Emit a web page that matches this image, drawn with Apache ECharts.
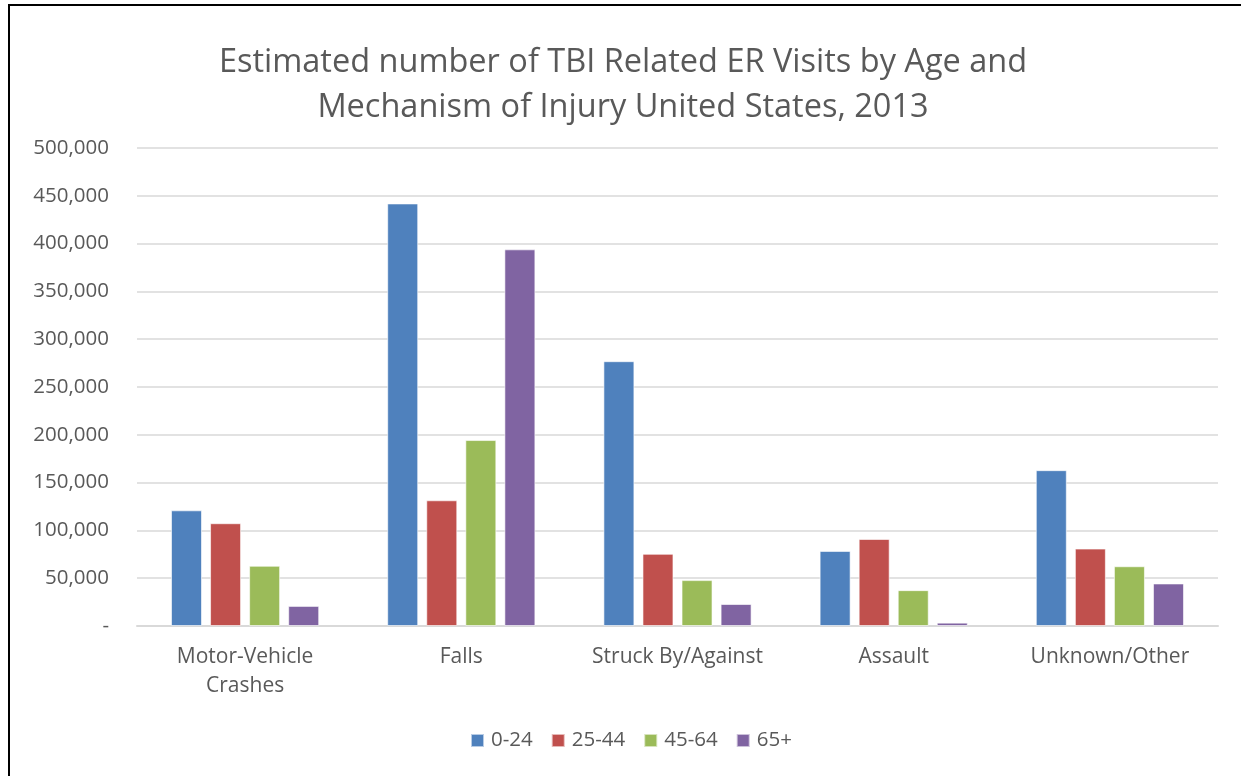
<!DOCTYPE html>
<html>
<head>
<meta charset="utf-8">
<script src="https://cdn.jsdelivr.net/npm/echarts@6/dist/echarts.min.js"></script>
<style>
  html, body { margin: 0; padding: 0; background: #fff; overflow: hidden; }
  #main { width: 1241px; height: 776px; position: absolute; left: 0; top: 0; }
  .frame { position: absolute; left: 8px; top: 4px; width: 1400px; height: 900px;
           border-left: 2px solid #000; border-top: 2px solid #000; pointer-events: none; }
</style>
</head>
<body>
<div id="main"></div>
<div class="frame"></div>
<script>
  // chart data
  var categories = ['Motor-Vehicle\nCrashes', 'Falls', 'Struck By/Against', 'Assault', 'Unknown/Other'];
  var ages = ['0-24', '25-44', '45-64', '65+'];
  var age0to24 = [121000, 442000, 277000, 78500, 163000];
  var age25to44 = [107500, 131500, 75500, 91000, 81000];
  var age45to64 = [63000, 194500, 48000, 37500, 62500];
  var age65plus = [21000, 394000, 23000, 3500, 44500];
  var colors = ['#4F81BD', '#C0504D', '#9BBB59', '#8064A2'];

  var font = '"Open Sans", sans-serif';
  var chart = echarts.init(document.getElementById('main'));

  function bar(name, data, i) {
    return {
      name: name,
      type: 'bar',
      data: data,
      barWidth: 31,
      barGap: '26%',
      itemStyle: { color: colors[i], borderColor: 'rgba(255,255,255,0.6)', borderWidth: 1 }
    };
  }

  chart.setOption({
    animation: false,
    textStyle: { fontFamily: font },
    title: {
      text: 'Estimated number of TBI Related ER Visits by Age and\nMechanism of Injury United States, 2013',
      left: 618,
      textAlign: 'center',
      top: 35,
      textStyle: { fontSize: 32.5, fontWeight: 'normal', color: '#595959', lineHeight: 45, fontFamily: font }
    },
    legend: {
      data: ages,
      bottom: 20,
      left: 465,
      itemWidth: 13,
      itemHeight: 13,
      itemGap: 18,
      icon: 'rect',
      textStyle: { fontSize: 20.5, color: '#595959', fontFamily: font, padding: [0, 0, 0, 2] }
    },
    grid: { left: 137, right: 23, top: 148, bottom: 150 },
    xAxis: {
      type: 'category',
      data: categories,
      axisLine: { lineStyle: { color: '#d9d9d9', width: 2 } },
      axisTick: { show: false },
      axisLabel: { fontSize: 21, color: '#595959', margin: 17, lineHeight: 29, interval: 0 }
    },
    yAxis: {
      type: 'value',
      min: 0,
      max: 500000,
      interval: 50000,
      axisLine: { show: false },
      axisTick: { show: false },
      splitLine: { lineStyle: { color: '#d9d9d9', width: 1.5 } },
      axisLabel: {
        fontSize: 20.5, color: '#595959', margin: 28,
        formatter: function (v) { return v === 0 ? '-' : v.toLocaleString('en-US'); }
      }
    },
    series: [
      bar(ages[0], age0to24, 0),
      bar(ages[1], age25to44, 1),
      bar(ages[2], age45to64, 2),
      bar(ages[3], age65plus, 3)
    ]
  });
</script>
</body>
</html>
